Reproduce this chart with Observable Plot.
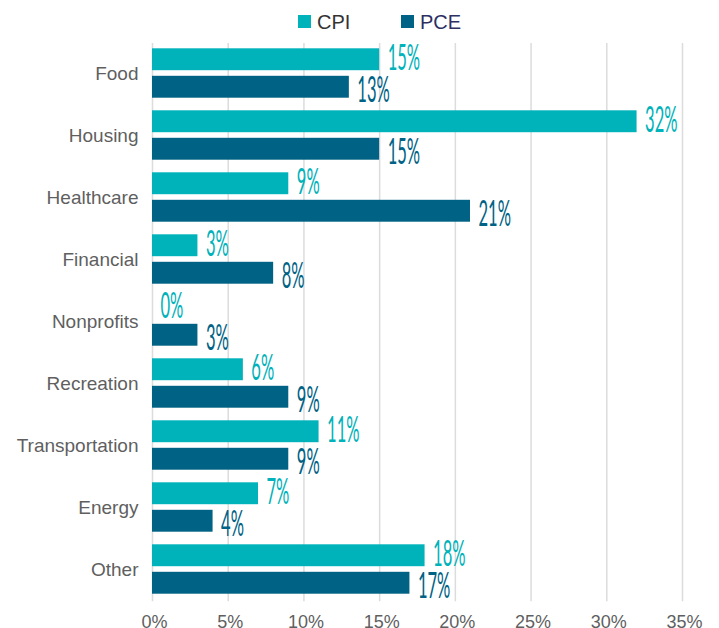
<!DOCTYPE html>
<html>
<head>
<meta charset="utf-8">
<script src="https://cdn.jsdelivr.net/npm/d3@7"></script>
<script src="https://cdn.jsdelivr.net/npm/@observablehq/plot@0.6"></script>
<style>
  html, body { margin: 0; padding: 0; background: #fff; }
  #legend { position: relative; height: 34px; width: 719px; font-family: "Liberation Sans", Arial, sans-serif; font-size: 20px; line-height: 20px; }
  #legend .sw { position: absolute; top: 15px; width: 12.5px; height: 13px; }
  #legend .lb { position: absolute; top: 11.6px; white-space: nowrap; }
  #chart svg { display: block; }
</style>
</head>
<body>
<div id="legend"></div>
<div id="chart"></div>
<script>
const categories = ["Food", "Housing", "Healthcare", "Financial", "Nonprofits", "Recreation", "Transportation", "Energy", "Other"];
const cpiValues = [15, 32, 9, 3, 0, 6, 11, 7, 18];
const pceValues = [13, 15, 21, 8, 3, 9, 9, 4, 17];
const seriesNames = ["CPI", "PCE"];
const xTicks = [0, 5, 10, 15, 20, 25, 30, 35];

const barColors = ["#00b2b9", "#006284"];
const legendTextColors = ["#333333", "#2c3062"];

const rows = categories.map((c, i) => ({category: c, cpi: cpiValues[i], pce: pceValues[i]}));

// legend
const legend = document.getElementById("legend");
const legendPos = [[298, 317], [401, 420]];
seriesNames.forEach((name, i) => {
  const sw = document.createElement("div");
  sw.className = "sw";
  sw.style.left = legendPos[i][0] + "px";
  sw.style.background = barColors[i];
  legend.appendChild(sw);
  const lb = document.createElement("div");
  lb.className = "lb";
  lb.style.left = legendPos[i][1] + "px";
  lb.style.color = legendTextColors[i];
  lb.textContent = name;
  legend.appendChild(lb);
});

const labelFont = "Lato, 'Liberation Sans Narrow', sans-serif";

const chart = Plot.plot({
  width: 719,
  height: 594,
  marginTop: 5.4,
  marginBottom: 25.2,
  marginLeft: 152,
  marginRight: 37,
  style: {fontFamily: "'Liberation Sans', Arial, sans-serif", fontSize: "19px", color: "#5f5f5f", background: "#fff", overflow: "visible"},
  x: {domain: [0, 35]},
  y: {domain: categories, padding: 0},
  marks: [
    Plot.gridX(xTicks, {stroke: "#dcdcdc", strokeOpacity: 1, strokeWidth: 1.5, insetTop: 3.6, insetBottom: 1.5}),
    Plot.barX(rows, {x: "cpi", y: "category", fill: barColors[0], insetTop: 6.3, insetBottom: 33.8}),
    Plot.barX(rows, {x: "pce", y: "category", fill: barColors[1], insetTop: 33.8, insetBottom: 6.3}),
    Plot.text(rows, {x: "cpi", y: "category", text: d => d.cpi + "%", textAnchor: "start", lineAnchor: "bottom", dx: 8, dy: -4, fill: barColors[0], fontSize: 36, fontWeight: 400, fontFamily: labelFont}),
    Plot.text(rows, {x: "pce", y: "category", text: d => d.pce + "%", textAnchor: "start", lineAnchor: "bottom", dx: 8, dy: 28, fill: barColors[1], fontSize: 36, fontWeight: 400, fontFamily: labelFont}),
    Plot.axisX({ticks: xTicks, tickFormat: d => d + "%", tickSize: 0, tickPadding: 12, dx: 2, label: null, fontSize: 18}),
    Plot.axisY({tickSize: 0, tickPadding: 14, label: null, fontSize: 19})
  ]
});

// condense the value labels horizontally
chart.querySelectorAll('g[aria-label="text"] text').forEach(t => {
  const tr = t.getAttribute("transform") || "";
  t.setAttribute("transform", tr + " scale(0.46,1)");
});

document.getElementById("chart").appendChild(chart);
</script>
</body>
</html>
